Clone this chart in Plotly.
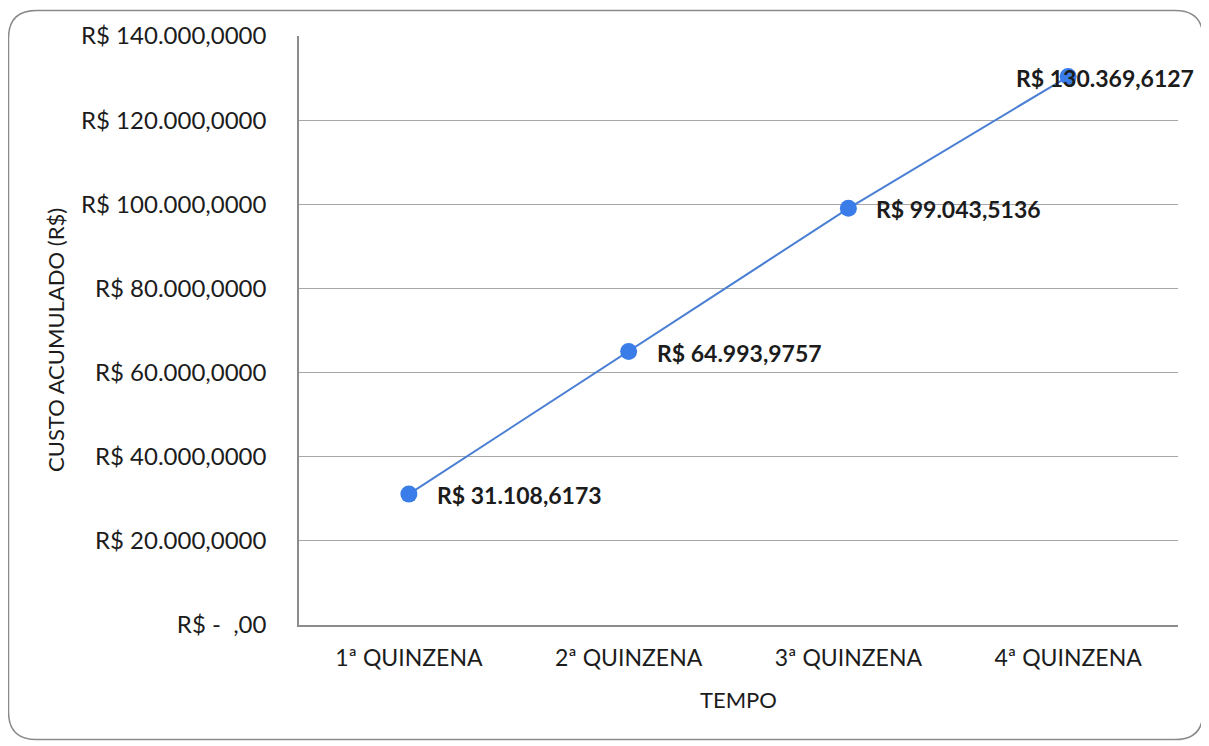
import plotly.graph_objects as go

categories = ["1ª QUINZENA", "2ª QUINZENA", "3ª QUINZENA", "4ª QUINZENA"]
values = [31108.6173, 64993.9757, 99043.5136, 130369.6127]
tick_values = [0, 20000, 40000, 60000, 80000, 100000, 120000, 140000]
tick_labels = ["R$ -  ,00", "R$ 20.000,0000", "R$ 40.000,0000", "R$ 60.000,0000",
               "R$ 80.000,0000", "R$ 100.000,0000", "R$ 120.000,0000", "R$ 140.000,0000"]


def brl(v):
    s = f"{v:,.4f}"
    s = s.replace(",", "X").replace(".", ",").replace("X", ".")
    return "R$ " + s


FONT = "Lato"
TXT = "#1c1c1c"
W, H = 1201, 738
pl, pr, pt, pb = 291, 31, 26, 121
pw, ph = W - pl - pr, H - pt - pb


def px(x):
    return (x - pl) / pw


def py(y):
    return (H - pb - y) / ph


fig = go.Figure()
fig.add_trace(go.Scatter(
    x=categories, y=values, mode="lines+markers",
    line=dict(color="#4a7fd4", width=2),
    marker=dict(color="#3a7de8", size=17),
    hoverinfo="skip", showlegend=False,
))

annotations = []
for i, (c, v) in enumerate(zip(categories, values)):
    last = i == len(values) - 1
    annotations.append(dict(
        x=c, y=v, xref="x", yref="y", text="<b>" + brl(v) + "</b>",
        showarrow=False,
        xanchor="center" if last else "left",
        xshift=37 if last else 26, yshift=-1,
        font=dict(family=FONT, size=23, color=TXT),
    ))

annotations.append(dict(
    x=px(48), y=py(331), xref="paper", yref="paper", text="CUSTO ACUMULADO (R$)",
    showarrow=False, textangle=-90, xanchor="center", yanchor="middle",
    font=dict(family=FONT, size=22, color=TXT),
))
annotations.append(dict(
    x=px(730), y=py(692), xref="paper", yref="paper", text="TEMPO",
    showarrow=False, xanchor="center", yanchor="middle",
    font=dict(family=FONT, size=22, color=TXT),
))

x0, x1, y0, y1, r = 0.5, 1195, 0.5, 732, 28
path = (f"M {px(x0 + r)} {py(y0)} L {px(x1 - r)} {py(y0)} "
        f"Q {px(x1)} {py(y0)} {px(x1)} {py(y0 + r)} L {px(x1)} {py(y1 - r)} "
        f"Q {px(x1)} {py(y1)} {px(x1 - r)} {py(y1)} L {px(x0 + r)} {py(y1)} "
        f"Q {px(x0)} {py(y1)} {px(x0)} {py(y1 - r)} L {px(x0)} {py(y0 + r)} "
        f"Q {px(x0)} {py(y0)} {px(x0 + r)} {py(y0)} Z")

fig.update_layout(
    width=W, height=H,
    margin=dict(l=pl, r=pr, t=pt, b=pb),
    paper_bgcolor="white", plot_bgcolor="white",
    annotations=annotations,
    font=dict(family=FONT, size=17, color=TXT),
    xaxis=dict(
        type="category", showgrid=False, showline=True, linecolor="#8c8c8c", linewidth=1.5,
        ticks="", ticklabelstandoff=12, tickfont=dict(family=FONT, size=23, color=TXT),
        range=[-0.5, 3.5],
    ),
    yaxis=dict(
        range=[0, 140000], tickvals=tick_values, ticktext=tick_labels,
        showgrid=True, gridcolor="#a6a6a6", gridwidth=1,
        showline=True, linecolor="#8c8c8c", linewidth=1.5, zeroline=False,
        ticks="", ticklabelstandoff=26, tickfont=dict(family=FONT, size=24, color=TXT),
    ),
    shapes=[dict(type="path", xref="paper", yref="paper", path=path,
                 line=dict(color="#8a8a8a", width=1.5), layer="below")],
)

fig.write_html("out.html")
